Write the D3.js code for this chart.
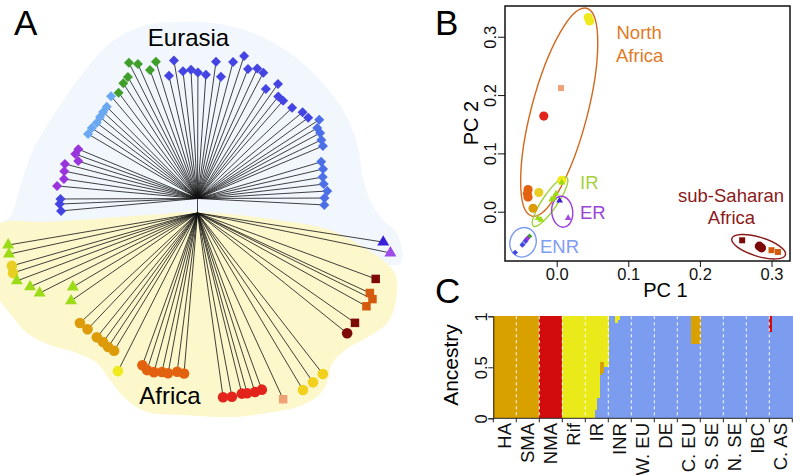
<!DOCTYPE html>
<html>
<head>
<meta charset="utf-8">
<script src="https://cdn.jsdelivr.net/npm/d3@7"></script>
<style>
  body { margin: 0; background: #fff; }
  text { font-family: "Liberation Sans", Arial, Helvetica, sans-serif; }
</style>
</head>
<body>
<svg id="chart" width="793" height="475"></svg>
<script>
// ================= DATA =================
// Panel A: neighbour-joining tree tips: [population, angle (deg), branch length]
const treeTipsEurasia = [
  ["green",116.8,1.52],["green",113.9,1.47],["green",106.9,1.43],["green",110.3,1.37],
  ["green",119.8,1.40],["green",122.8,1.37],["green",126.7,1.32],
  ["ltblue",130.2,1.34],["ltblue",134.7,1.29],["ltblue",137.5,1.28],["ltblue",140.1,1.27],
  ["ltblue",143.1,1.26],["ltblue",146.3,1.27],["ltblue",149.5,1.27],
  ["purple",157.5,1.29],["purple",160.0,1.30],["purple",162.6,1.25],["purple",165.4,1.37],
  ["purple",168.4,1.36],["purple",171.7,1.35],["purple",174.9,1.41],
  ["blue",180.2,1.37],["blue",182.3,1.38],["blue",185.2,1.37],
  ["blue",99.7,1.40],["blue",103.1,1.26],["blue",96.5,1.28],["blue",92.9,1.29],["blue",89.8,1.26],
  ["blue",86.1,1.24],["blue",82.3,1.38],["blue",79.1,1.24],["blue",75.4,1.41],["blue",71.9,1.50],
  ["blue",68.7,1.39],["blue",65.3,1.43],["blue",62.4,1.42],["blue",58.0,1.29],["blue",54.9,1.40],
  ["blue",51.6,1.30],["blue",48.8,1.30],["blue",43.8,1.31],["blue",39.4,1.36],["blue",36.1,1.37],
  ["blue2",32.9,1.45],["blue2",30.5,1.39],["blue2",28.1,1.39],["blue2",25.3,1.37],["blue2",22.7,1.36],
  ["blue2",16.5,1.29],["blue2",13.2,1.29],["blue2",9.7,1.27],["blue2",6.5,1.27],["blue2",3.3,1.30],
  ["blue2",0.2,1.27],["blue2",-2.9,1.27]
];
const treeTipsAfrica = [
  ["erBlue",351.1,1.88],["erPurple",348.3,1.97],
  ["dkred",339.7,1.90],["orangeSq",335.1,1.90],["orangeSq",333.8,1.95],["orangeSq",331.1,1.93],
  ["dkred",325.1,1.92],["dkredC",321.2,1.92],
  ["irTri",189.6,1.92],["irTri",192.3,1.93],["yellowL",195.9,1.93],["yellowL",198.0,1.94],
  ["irTri",200.6,1.93],["irTri",203.8,1.83],["irTri",206.9,1.77],["irTri",210.7,1.45],["irTri",214.8,1.54],
  ["gold",223.1,1.61],["gold",226.6,1.60],["gold",231.0,1.60],["gold",233.8,1.60],["gold",236.3,1.61],["gold",238.8,1.61],
  ["yellowB",243.3,1.77],
  ["orange",250.1,1.62],["orange",252.2,1.65],["orange",254.7,1.65],["orange",257.4,1.63],
  ["orange",259.6,1.63],["orange",262.7,1.60],["orange",265.2,1.61],
  ["red",277.9,1.86],["red",280.6,1.87],["red",283.8,1.86],["red",285.4,1.87],["red",287.8,1.88],["red",290.0,1.88],
  ["salmon",294.7,2.05],
  ["yellowR",300.8,2.06],["yellowR",304.3,2.05],["yellowR",307.9,2.04]
];
const africaStemLength = 0.145;   // internal branch between the two clades

// Panel B: PCA points [population, PC1, PC2]
const pcaPoints = [
  ["yellowB",0.044,0.333],["yellowB",0.046,0.327],
  ["salmon",0.006,0.212],
  ["red",-0.018,0.164],
  ["orange",-0.040,0.038],["orange",-0.041,0.031],["orange",-0.040,0.025],
  ["gold",-0.033,0.006],
  ["yellowL",-0.025,0.033],
  ["yellowB",0.007,0.054],
  ["irTri",0.007,0.050],["irTri",-0.001,0.031],["irTri",-0.007,0.021],["irTri",-0.004,0.024],
  ["irTri",-0.026,-0.011],["irTri",-0.022,-0.014],
  ["erBlue",0.004,0.019],["erPurple",0.016,-0.011],
  ["green",-0.038,-0.042],["purple",-0.041,-0.046],["purple",-0.043,-0.049],["blue",-0.044,-0.051],
  ["purple",-0.046,-0.054],["ltblue",-0.047,-0.055],["blue",-0.048,-0.057],["blue",-0.058,-0.070],
  ["dkred",0.259,-0.049],["dkredC",0.283,-0.059],["dkredC",0.286,-0.062],
  ["orangeSq",0.300,-0.066],["orangeSq",0.309,-0.069]
];
const pcaXTicks = [0.0, 0.1, 0.2, 0.3];
const pcaYTicks = [0.0, 0.1, 0.2, 0.3];
// cluster ellipses: [name, centre PC1, centre PC2]
const pcaClusters = [
  ["North Africa",0.0035,0.1707],
  ["IR",-0.0093,0.0171],
  ["ER",0.0077,0.0],
  ["ENR",-0.047,-0.0525],
  ["sub-Saharan Africa",0.282,-0.060]
];

// Panel C: ADMIXTURE ancestry, one row per individual: [population, blue, gold, red, yellow]
const ancestryGroups = ["HA","SMA","NMA","Rif","IR","INR","W. EU","DE","C. EU","S. SE","N. SE","IBC","C. AS"];
const ancestryComponents = ["blue","gold","red","yellow"];
const ancestryRows = [
  ["HA",0,1,0,0],
  ["SMA",0,1,0,0],
  ["NMA",0,0,1,0],
  ["Rif",0,0,0,1],
  ["IR",0,0,0,1],["IR",0,0,0,1],["IR",0,0,0,1],["IR",0,0,0,1],
  ["IR",0.08,0,0,0.92],["IR",0.20,0,0,0.80],["IR",0.42,0.13,0,0.45],["IR",0.44,0.11,0,0.45],
  ["IR",0.50,0,0,0.50],["IR",0.50,0,0,0.50],
  ["INR",1,0,0,0],["INR",1,0,0,0],["INR",1,0,0,0],["INR",0.93,0,0,0.07],["INR",0.96,0,0,0.04],
  ["INR",1,0,0,0],["INR",1,0,0,0],["INR",1,0,0,0],["INR",1,0,0,0],["INR",1,0,0,0],
  ["W. EU",1,0,0,0],
  ["DE",1,0,0,0],
  ["C. EU",1,0,0,0],["C. EU",1,0,0,0],["C. EU",1,0,0,0],["C. EU",1,0,0,0],["C. EU",1,0,0,0],
  ["C. EU",1,0,0,0],["C. EU",0.73,0.27,0,0],["C. EU",0.73,0.27,0,0],["C. EU",0.73,0.27,0,0],["C. EU",0.73,0.27,0,0],
  ["S. SE",1,0,0,0],
  ["N. SE",1,0,0,0],
  ["IBC",1,0,0,0],
  ["C. AS",0.85,0,0.15,0],["C. AS",1,0,0,0],["C. AS",1,0,0,0],["C. AS",1,0,0,0],["C. AS",1,0,0,0],
  ["C. AS",1,0,0,0],["C. AS",1,0,0,0],["C. AS",1,0,0,0],["C. AS",1,0,0,0],["C. AS",1,0,0,0]
];
const ancestryTicks = [0, 0.5, 1];

// ================= STYLES =================
const popStyle = {
  green:{c:"#3f9f2a",s:"diamond"}, ltblue:{c:"#6aa8f2",s:"diamond"}, purple:{c:"#9a34dc",s:"diamond"},
  blue:{c:"#4444e2",s:"diamond"}, blue2:{c:"#4c6fe8",s:"diamond"},
  erBlue:{c:"#3b1fd8",s:"triangle"}, erPurple:{c:"#a04ae8",s:"triangle"},
  dkred:{c:"#7d0a06",s:"square"}, dkredC:{c:"#7d0a06",s:"circle"}, orangeSq:{c:"#d45a0e",s:"square"},
  irTri:{c:"#9bdb18",s:"triangle"}, yellowL:{c:"#e9cf22",s:"circle"}, gold:{c:"#dd9b0a",s:"circle"},
  yellowB:{c:"#eeea1e",s:"circle"}, orange:{c:"#e2620f",s:"circle"}, red:{c:"#e2241a",s:"circle"},
  salmon:{c:"#efa178",s:"square"}, yellowR:{c:"#f1d11c",s:"circle"}
};
const symType = {diamond:d3.symbolSquare, circle:d3.symbolCircle, triangle:d3.symbolTriangle, square:d3.symbolSquare};
const treeSize = {diamond:50, circle:88, triangle:62, square:72};
const pcaSize = {diamond:16, circle:66, triangle:20, square:36};
const ancColor = {gold:"#d9a100", red:"#d20c0c", yellow:"#eaea1a", blue:"#7c9cf0"};
const clusterStyle = {
  "North Africa":{rx:107.5, ry:28, rot:-75.2, stroke:"#d2691e"},
  "IR":{rx:29.5, ry:7.5, rot:-55.6, stroke:"#9fd23a"},
  "ER":{rx:10.5, ry:15.5, rot:-6, stroke:"#9b3fd8"},
  "ENR":{rx:13, ry:15, rot:20, stroke:"#7b9bf0"},
  "sub-Saharan Africa":{rx:28, ry:9.5, rot:17, stroke:"#8b1a1a"}
};

const svg = d3.select("#chart");
svg.append("rect").attr("width",793).attr("height",475).attr("fill","#fff");

function drawSym(g, x, y, pop, sizes) {
  const st = popStyle[pop];
  g.append("path")
    .attr("d", d3.symbol(symType[st.s], sizes[st.s])())
    .attr("transform", `translate(${x},${y})` + (st.s === "diamond" ? " rotate(45)" : ""))
    .attr("fill", st.c);
}

// ================= PANEL A =================
const rLen = d3.scaleLinear().domain([0, 1]).range([0, 100]);
const gA = svg.append("g").attr("transform", "translate(197.5,198.5)");

// highlighted regions (in tree units relative to the Eurasia node)
const eurasiaRegion = [[-1.875,0.185],[-1.775,-0.115],[-1.645,-0.485],[-1.405,-0.885],[-1.145,-1.255],
  [-0.875,-1.555],[-0.575,-1.715],[-0.245,-1.765],[0.155,-1.755],[0.555,-1.655],[0.925,-1.455],
  [1.225,-1.185],[1.455,-0.885],[1.595,-0.555],[1.655,-0.215],[1.725,0.015],[1.855,0.215],
  [1.995,0.345],[2.03,0.65],[1.325,0.515],[0.005,0.415],[-1.975,0.515],[-1.99,0.265]];
const africaRegion = [[-2.0,0.265],[-1.5,0.235],[-0.975,0.2],[-0.5,0.165],[0.005,0.135],[0.725,0.205],[1.325,0.315],
  [1.675,0.495],[1.875,0.635],[1.985,0.775],[1.985,1.015],[1.905,1.235],[1.705,1.385],[1.475,1.515],
  [1.345,1.655],[1.305,1.815],[1.225,1.955],[1.025,2.075],[0.695,2.145],[0.355,2.185],[-0.145,2.165],
  [-0.505,2.135],[-0.705,2.015],[-0.875,1.815],[-1.005,1.645],[-1.205,1.545],[-1.475,1.465],
  [-1.705,1.345],[-1.845,1.185],[-2.0,0.965],[-2.05,0.6]];
const regionLine = d3.line().x(d => rLen(d[0])).y(d => rLen(d[1])).curve(d3.curveCatmullRomClosed.alpha(0.5));
gA.append("path").attr("d", regionLine(eurasiaRegion)).attr("fill", "#f2f7fe");
gA.append("path").attr("d", regionLine(africaRegion)).attr("fill", "#fdf7cc");

const rad = a => a * Math.PI / 180;
const stemY = rLen(africaStemLength);
function tipPos(t, yOff) {
  return [rLen(t[2]) * Math.cos(rad(t[1])), -rLen(t[2]) * Math.sin(rad(t[1])) + yOff];
}
const linesG = gA.append("g").attr("stroke", "#111").attr("stroke-width", 0.8);
linesG.append("line").attr("x1",0).attr("y1",0).attr("x2",0).attr("y2",stemY);
treeTipsEurasia.forEach(t => { const p = tipPos(t, 0);
  linesG.append("line").attr("x1",0).attr("y1",0).attr("x2",p[0]).attr("y2",p[1]); });
treeTipsAfrica.forEach(t => { const p = tipPos(t, stemY);
  linesG.append("line").attr("x1",0).attr("y1",stemY).attr("x2",p[0]).attr("y2",p[1]); });
treeTipsEurasia.forEach(t => { const p = tipPos(t, 0); drawSym(gA, p[0], p[1], t[0], treeSize); });
treeTipsAfrica.forEach(t => { const p = tipPos(t, stemY); drawSym(gA, p[0], p[1], t[0], treeSize); });

svg.append("text").attr("x",14).attr("y",35).attr("font-size",35).text("A");
svg.append("text").attr("x",188.5).attr("y",46).attr("text-anchor","middle").attr("font-size",24).text("Eurasia");
svg.append("text").attr("x",170).attr("y",404).attr("text-anchor","middle").attr("font-size",24).text("Africa");

// ================= PANEL B =================
const xB = d3.scaleLinear().domain([-0.0722, 0.3258]).range([505, 790]);
const yB = d3.scaleLinear().domain([-0.0845, 0.3527]).range([261, 6]);
const gB = svg.append("g");

pcaClusters.forEach(c => {
  const st = clusterStyle[c[0]];
  gB.append("ellipse").attr("cx",0).attr("cy",0).attr("rx",st.rx).attr("ry",st.ry)
    .attr("transform", `translate(${xB(c[1])},${yB(c[2])}) rotate(${st.rot})`)
    .attr("fill","none").attr("stroke",st.stroke).attr("stroke-width",1.4);
});
pcaPoints.forEach(p => drawSym(gB, xB(p[1]), yB(p[2]), p[0], pcaSize));

gB.append("rect").attr("x",505).attr("y",6).attr("width",285).attr("height",255)
  .attr("fill","none").attr("stroke","#111").attr("stroke-width",1.5);

const xAxisB = gB.append("g").attr("transform","translate(0,261)")
  .call(d3.axisBottom(xB).tickValues(pcaXTicks).tickFormat(d3.format(".1f")).tickSize(6).tickPadding(1));
xAxisB.select(".domain").remove();
xAxisB.selectAll("text").attr("font-size",16.5).attr("fill","#111")
  .attr("font-family","'Liberation Sans', Arial, sans-serif");
xAxisB.selectAll("line").attr("stroke","#111");

const yAxisB = gB.append("g").attr("transform","translate(505,0)")
  .call(d3.axisLeft(yB).tickValues(pcaYTicks).tickFormat(d3.format(".1f")).tickSize(7));
yAxisB.select(".domain").remove();
yAxisB.selectAll("line").attr("stroke","#111");
yAxisB.selectAll("text")
  .attr("x",null).attr("dy",null)
  .attr("text-anchor","middle")
  .attr("transform","translate(-9,0) rotate(-90)")
  .attr("font-size",16.5).attr("fill","#111")
  .attr("font-family","'Liberation Sans', Arial, sans-serif");

svg.append("text").attr("x",435).attr("y",35).attr("font-size",35).text("B");
svg.append("text").attr("transform","translate(478,123) rotate(-90)").attr("text-anchor","middle")
  .attr("font-size",20).text("PC 2");
svg.append("text").attr("x",665.5).attr("y",297).attr("text-anchor","middle").attr("font-size",20).text("PC 1");

const labB = svg.append("g").attr("font-size",18.5);
labB.append("text").attr("x",616.5).attr("y",38.5).attr("fill","#e07a26").text("North");
labB.append("text").attr("x",616).attr("y",61.5).attr("fill","#e07a26").text("Africa");
labB.append("text").attr("x",580).attr("y",188.5).attr("fill","#a5d13e").text("IR");
labB.append("text").attr("x",580).attr("y",218.5).attr("fill","#9b45d6").text("ER");
labB.append("text").attr("x",540).attr("y",252.5).attr("fill","#7f9df2").text("ENR");
labB.append("text").attr("x",731).attr("y",201.5).attr("text-anchor","middle").attr("fill","#8b1a1a").text("sub-Saharan");
labB.append("text").attr("x",731.5).attr("y",223.5).attr("text-anchor","middle").attr("fill","#8b1a1a").text("Africa");

// ================= PANEL C =================
const xC = d3.scaleBand().domain(ancestryGroups).range([493.3, 792.3]).padding(0);
const yC = d3.scaleLinear().domain([0, 1]).range([418.3, 316.3]);
const gC = svg.append("g");

const rowsObj = ancestryRows.map(r => ({group:r[0], blue:r[1], gold:r[2], red:r[3], yellow:r[4]}));
const stacked = d3.stack().keys(ancestryComponents)(rowsObj);
const innerScales = {};
ancestryGroups.forEach(g => {
  const idx = rowsObj.map((r,i) => r.group === g ? i : -1).filter(i => i >= 0);
  innerScales[g] = d3.scaleBand().domain(idx).range([xC(g), xC(g) + xC.bandwidth()]).padding(0);
});
stacked.forEach(layer => {
  gC.append("g").attr("fill", ancColor[layer.key]).attr("shape-rendering","crispEdges")
    .selectAll("rect").data(layer.map((d,i) => ({d, i})).filter(o => o.d[1] - o.d[0] > 0))
    .join("rect")
    .attr("x", o => innerScales[rowsObj[o.i].group](o.i))
    .attr("width", o => innerScales[rowsObj[o.i].group].bandwidth() + 0.4)
    .attr("y", o => yC(o.d[1]))
    .attr("height", o => yC(o.d[0]) - yC(o.d[1]));
});
// dashed separators
ancestryGroups.slice(1).forEach(g => {
  gC.append("line").attr("x1",xC(g)).attr("x2",xC(g)).attr("y1",yC(1)).attr("y2",yC(0))
    .attr("stroke","#fff").attr("stroke-width",1).attr("stroke-dasharray","3,3");
});
// bottom axis with ticks at boundaries
gC.append("line").attr("x1",xC(ancestryGroups[0])).attr("x2",792.3).attr("y1",yC(0)).attr("y2",yC(0))
  .attr("stroke","#222").attr("stroke-width",1);
ancestryGroups.concat(["_end"]).forEach((g,i) => {
  const x = i < ancestryGroups.length ? xC(g) : 792.3;
  gC.append("line").attr("x1",x).attr("x2",x).attr("y1",yC(0)).attr("y2",yC(0)+4).attr("stroke","#222");
});
ancestryGroups.forEach(g => {
  gC.append("text").attr("transform", `translate(${xC(g) + xC.bandwidth()/2},423) rotate(-90)`)
    .attr("text-anchor","end").attr("dy","0.36em").attr("font-size",18.5).attr("fill","#111").text(g);
});
// left axis
const yAxisC = gC.append("g").attr("transform","translate(493.3,0)")
  .call(d3.axisLeft(yC).tickValues(ancestryTicks).tickFormat(d => d).tickSize(5));
yAxisC.select(".domain").attr("stroke","#222");
yAxisC.selectAll("line").attr("stroke","#222");
yAxisC.selectAll("text")
  .attr("x",null).attr("dy",null)
  .attr("text-anchor","middle")
  .attr("transform","translate(-6,0) rotate(-90)")
  .attr("font-size",16.5).attr("fill","#111")
  .attr("font-family","'Liberation Sans', Arial, sans-serif");

svg.append("text").attr("x",435).attr("y",303).attr("font-size",35).text("C");
svg.append("text").attr("transform","translate(458,365) rotate(-90)").attr("text-anchor","middle")
  .attr("font-size",21).text("Ancestry");
</script>
</body>
</html>
